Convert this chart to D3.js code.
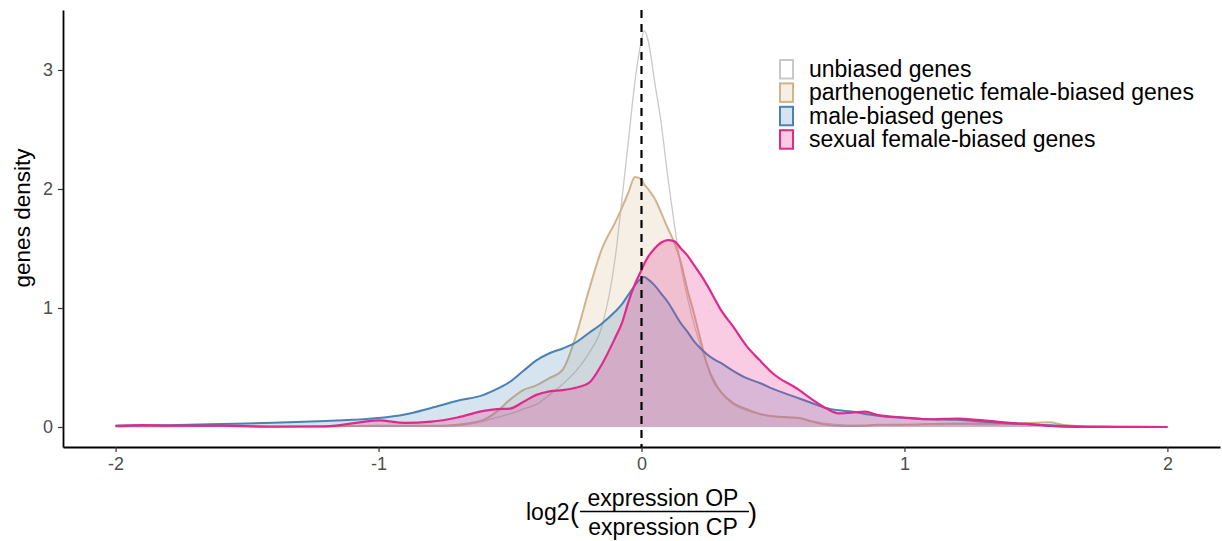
<!DOCTYPE html>
<html><head><meta charset="utf-8">
<script src="https://cdn.jsdelivr.net/npm/d3@7"></script>
<style>
body{margin:0;background:#fff;}
text{font-family:"Liberation Sans",Arial,Helvetica,sans-serif;}
</style>
</head><body>
<svg id="chart" width="1222" height="541"></svg>
<script>
// ---- data ----
const xGrid = [-2,-1.9,-1.8,-1.6,-1.4,-1.2,-1.1,-1.0,-0.9,-0.8,-0.7,-0.6,-0.55,-0.5,-0.45,-0.4,-0.35,-0.3,-0.25,-0.2,-0.15,-0.1,-0.075,-0.05,-0.025,0,0.01,0.025,0.05,0.075,0.1,0.125,0.15,0.175,0.2,0.225,0.25,0.275,0.3,0.35,0.4,0.45,0.5,0.6,0.65,0.7,0.75,0.8,0.85,0.9,1.0,1.1,1.2,1.3,1.4,1.5,1.55,1.6,1.7,1.8,2.0];

const unbiased = [0.003,0.003,0.003,0.003,0.004,0.004,0.005,0.005,0.005,0.006,0.01,0.05,0.08,0.11,0.15,0.19,0.27,0.36,0.47,0.62,0.85,1.42,1.9,2.4,2.9,3.25,3.33,3.25,2.9,2.55,2.1,1.7,1.35,1.08,0.86,0.68,0.52,0.4,0.3,0.19,0.14,0.11,0.09,0.075,0.05,0.03,0.02,0.015,0.015,0.02,0.02,0.02,0.025,0.02,0.02,0.02,0.015,0.01,0.005,0.003,0];

const parthenogenetic = [0.005,0.005,0.006,0.008,0.006,0.005,0.008,0.01,0.01,0.01,0.02,0.06,0.13,0.23,0.31,0.35,0.41,0.48,0.76,1.15,1.5,1.72,1.84,1.97,2.1,2.08,2.04,2.0,1.92,1.8,1.67,1.55,1.38,1.15,0.95,0.73,0.52,0.38,0.3,0.2,0.15,0.11,0.09,0.075,0.045,0.02,0.01,0.008,0.01,0.02,0.02,0.025,0.03,0.03,0.03,0.035,0.04,0.02,0.005,0.002,0];

const maleBiased = [0.01,0.012,0.015,0.025,0.035,0.05,0.06,0.075,0.105,0.16,0.22,0.27,0.32,0.38,0.47,0.56,0.62,0.66,0.71,0.79,0.87,0.97,1.03,1.11,1.19,1.25,1.26,1.24,1.19,1.12,1.05,0.96,0.87,0.8,0.72,0.66,0.61,0.57,0.54,0.47,0.41,0.37,0.32,0.24,0.2,0.16,0.14,0.13,0.11,0.095,0.075,0.065,0.06,0.045,0.03,0.02,0.015,0.01,0.005,0.003,0];

const sexualFemale = [0.01,0.015,0.012,0.012,0.002,0.006,0.03,0.055,0.035,0.045,0.08,0.135,0.15,0.155,0.21,0.27,0.3,0.31,0.33,0.37,0.53,0.75,0.87,1.05,1.2,1.32,1.37,1.43,1.5,1.55,1.57,1.56,1.5,1.44,1.36,1.28,1.19,1.09,0.99,0.84,0.68,0.56,0.45,0.31,0.23,0.16,0.115,0.12,0.13,0.1,0.08,0.065,0.07,0.055,0.035,0.02,0.01,0.003,0,0,0];

const seriesNames = ["unbiased genes","parthenogenetic female-biased genes","male-biased genes","sexual female-biased genes"];
const seriesValues = [unbiased, parthenogenetic, maleBiased, sexualFemale];
const xTicks = [-2,-1,0,1,2];
const yTicks = [0,1,2,3];

// ---- styles ----
const lineColors = ["#c9c9c9","#d2b48c","#4a82b4","#df2a8c"];
const fillColors = ["#ffffff","#d2b48c","#4682b4","#e7298a"];
const fillOpac = [0.3,0.22,0.22,0.24];
const lineWidths = [1.3,2,2,2.2];

const svg = d3.select("#chart");
const x = d3.scaleLinear().domain([-2.2,2.2]).range([63,1220]);
const y = d3.scaleLinear().domain([-0.168,3.504]).range([447,10]);

const area = d3.area().x(d=>x(d[0])).y0(y(0)).y1(d=>y(d[1])).curve(d3.curveMonotoneX);
const line = d3.line().x(d=>x(d[0])).y(d=>y(d[1])).curve(d3.curveMonotoneX);

seriesValues.forEach((vals,i)=>{
  const pts = xGrid.map((xv,j)=>[xv, vals[j]]);
  svg.append("path").attr("d",area(pts)).attr("fill",fillColors[i]).attr("fill-opacity",fillOpac[i]).attr("stroke","none");
  svg.append("path").attr("d",line(pts)).attr("fill","none").attr("stroke",lineColors[i]).attr("stroke-width",lineWidths[i]).attr("stroke-linejoin","round");
});

// dashed vertical line at 0
svg.append("line").attr("x1",x(0)).attr("x2",x(0)).attr("y1",y.range()[1]).attr("y2",y.range()[0])
  .attr("stroke","#000").attr("stroke-width",2.2).attr("stroke-dasharray","8,6");

// axes
const xAxis = svg.append("g").attr("transform","translate(0,447)")
  .call(d3.axisBottom(x).tickValues(xTicks).tickSize(5).tickSizeOuter(0).tickPadding(5).tickFormat(d=>String(d)));
xAxis.select(".domain").attr("stroke","#000").attr("stroke-width",1.8);
xAxis.selectAll(".tick line").attr("stroke","#333").attr("stroke-width",1.2);
xAxis.selectAll(".tick text").attr("fill","#4d4d4d").style("font-size","18px").style("font-family","'Liberation Sans',Arial,sans-serif");

const yAxis = svg.append("g").attr("transform","translate(63,0)")
  .call(d3.axisLeft(y).tickValues(yTicks).tickSize(5).tickSizeOuter(0).tickPadding(5).tickFormat(d=>String(d)));
yAxis.select(".domain").attr("stroke","#000").attr("stroke-width",1.8);
yAxis.selectAll(".tick line").attr("stroke","#333").attr("stroke-width",1.2);
yAxis.selectAll(".tick text").attr("fill","#4d4d4d").style("font-size","18px").style("font-family","'Liberation Sans',Arial,sans-serif");

// y title
svg.append("text").attr("transform","translate(30,218) rotate(-90)").attr("text-anchor","middle")
  .style("font-size","22.5px").attr("fill","#000").text("genes density");

// x title: log2( fraction )
const xt = svg.append("g");
xt.append("text").attr("x",526).attr("y",520).style("font-size","23px").text("log2");
xt.append("text").attr("x",570).attr("y",522).style("font-size","27px").text("(");
xt.append("text").attr("x",663).attr("y",506).attr("text-anchor","middle").style("font-size","23px").text("expression OP");
xt.append("line").attr("x1",580).attr("x2",749).attr("y1",511.5).attr("y2",511.5).attr("stroke","#000").attr("stroke-width",1.3);
xt.append("text").attr("x",663).attr("y",535).attr("text-anchor","middle").style("font-size","23px").text("expression CP");
xt.append("text").attr("x",748).attr("y",522).style("font-size","27px").text(")");

// legend
const lg = svg.append("g");
seriesNames.forEach((n,i)=>{
  const by = 77 + i*23.4;
  lg.append("rect").attr("x",780).attr("y",by-17).attr("width",13).attr("height",18.5)
    .attr("fill",fillColors[i]).attr("fill-opacity",fillOpac[i]).attr("stroke",lineColors[i]).attr("stroke-width",2);
  lg.append("text").attr("x",809).attr("y",by).style("font-size","23px").attr("fill","#000").text(n);
});
</script>
</body></html>
